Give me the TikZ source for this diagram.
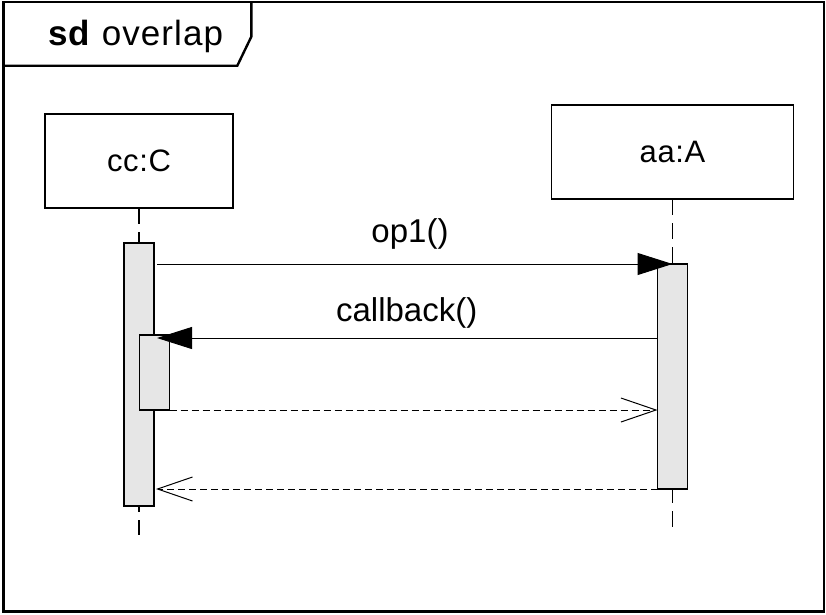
\documentclass[tikz,border=0pt]{standalone}
\usepackage{fontspec}
\setmainfont{Liberation Sans}
\newfontfamily\titlefont[LetterSpace=3]{Liberation Sans}
\newfontfamily\boxfont[LetterSpace=2]{Liberation Sans}
\usetikzlibrary{arrows.meta,calc}
\definecolor{barfill}{HTML}{E6E6E6}
\begin{document}
\begin{tikzpicture}[x=1pt,y=-1pt,
  frame/.style={line width=2.4pt},
  objbox/.style={draw, line width=1.3pt, inner sep=0pt, outer sep=0pt, fill=white, font=\boxfont\fontsize{31}{34}\selectfont},
  bar/.style={draw, line width=1.2pt, fill=barfill, inner sep=0pt, outer sep=0pt, minimum width=30pt},
  lifeline/.style={line width=1.2pt, dash pattern=on 16pt off 8pt},
  call/.style={line width=1pt, -{Triangle[length=35pt,width=22pt]}},
  reply/.style={line width=1pt, dash pattern=on 7pt off 4pt, -{Straight Barb[length=35pt,width=24pt,line width=1pt]}},
  msg/.style={font=\fontsize{33}{36}\selectfont, inner sep=0pt, anchor=base},
  ]
\useasboundingbox (0,0) rectangle (826,614);
% frame
\draw[frame] (3.5,2) rectangle (824,611.3);
\draw[frame] (3.5,65.7) -- (237.3,65.7) -- (251.3,36.7) -- (251.3,2);
\node[anchor=base west, inner sep=0pt, font=\titlefont\fontsize{35}{38}\selectfont] (title) at (48,45) {\textbf{sd} overlap};
% objects
\node[objbox, minimum width=188pt, minimum height=94pt] (cc) at (139,161) {cc:C};
\node[objbox, minimum width=242pt, minimum height=94pt] (aa) at (672.5,152) {aa:A};
\coordinate (ccend) at (139,535);
\coordinate (aaend) at (672.5,527);
\draw[lifeline] (cc.south) -- (ccend);
\draw[lifeline] (aa.south) -- (aaend);
% activations
\node[bar, minimum height=263pt] (ccbar) at (139,374.5) {};
\node[bar, minimum height=75pt] (ccnest) at (154.5,372.5) {};
\node[bar, minimum height=225pt] (aabar) at (672.5,376.5) {};
% messages
\draw[call, shorten <=3pt] (ccbar.east |- aabar.north) -- (aabar.north);
\node[msg] (l1) at (410,242.7) {op1()};
\coordinate (cbtip) at ($(ccnest.north)+(2.5,3)$);
\draw[call] (aabar.west |- cbtip) -- (cbtip);
\node[msg] (l2) at (406.7,321) {callback()};
\draw[reply] (ccnest.south east) -- (aabar.west |- ccnest.south);
\coordinate (r2tip) at ($(ccbar.east |- aabar.south)+(2,0)$);
\draw[reply] (aabar.south west) -- (r2tip);
\end{tikzpicture}
\end{document}
